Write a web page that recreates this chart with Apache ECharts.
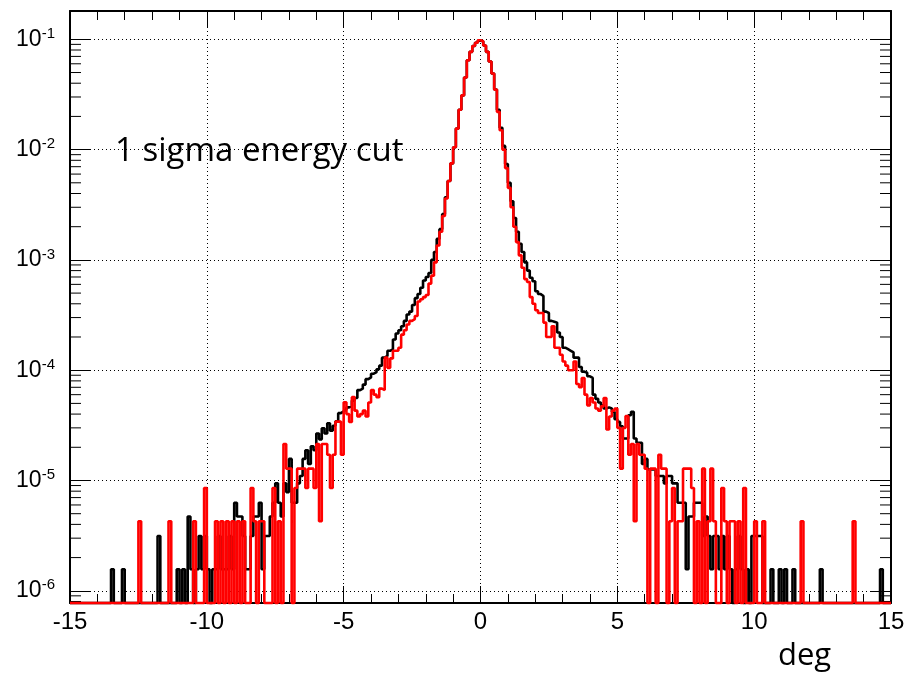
<!DOCTYPE html>
<html>
<head>
<meta charset="utf-8">
<script src="https://cdn.jsdelivr.net/npm/echarts@6/dist/echarts.min.js"></script>
<style>
html,body{margin:0;padding:0;background:#fff;}
#chart{width:922px;height:676px;}
</style>
</head>
<body>
<div id="chart"></div>
<script>
// ---- axis ranges / binning ----
const X_MIN = -15, X_MAX = 15, BIN_WIDTH = 0.1;
const Y_MIN = 7.75e-7, Y_MAX = 0.1806;
const yTickExponents = [-6, -5, -4, -3, -2, -1];
const minorTickMultipliers = [2, 3, 4, 5, 6, 7, 8, 9];
const minorTickDecades = [-7, -6, -5, -4, -3, -2, -1];

// ---- black histogram (bins of 0.1 deg from -15) ----
const blackLeft = [
0,0,0,0,0,0,0,0,0,0,
0,0,0,0,0,1.57e-6,0,0,0,1.57e-6,
0,0,0,0,0,0,0,0,0,0,
0,0,3.14e-6,0,0,0,0,0,0,1.57e-6,
0,1.57e-6,0,4.71e-6,1.57e-6,0,1.57e-6,3.14e-6,1.57e-6,3.14e-6,
1.57e-6,0,1.57e-6,1.57e-6,3.14e-6,1.57e-6,1.57e-6,1.57e-6,3.14e-6,1.57e-6,
6.28e-6,4.71e-6,4.71e-6,3.14e-6,1.57e-6,1.57e-6,3.14e-6,4.71e-6,4.71e-6,6.28e-6,
1.57e-6,3.14e-6,3.14e-6,4.71e-6,6.28e-6,9.42e-6,6.28e-6,4.71e-6,9.42e-6,7.85e-6,
1.57e-5,6.28e-6,6.28e-6,9.42e-6,1.1e-5,1.57e-5,1.88e-5,1.41e-5,2.04e-5,1.88e-5,
2.67e-5,2.36e-5,2.98e-5,2.67e-5,3.3e-5,2.83e-5,3.14e-5,3.45e-5,4.08e-5,4.24e-5
];
const blackCore = [
4.4e-5,4.6e-5,4.7e-5,5.3e-5,5.6e-5,6.6e-5,6.8e-5,7.4e-5,8.3e-5,8.6e-5,
9.3e-5,9.6e-5,1.02e-4,1.1e-4,1.3e-4,1.35e-4,1.5e-4,1.55e-4,1.9e-4,2.15e-4,
2.3e-4,2.5e-4,2.8e-4,3.2e-4,3.4e-4,3.9e-4,4.5e-4,4.9e-4,5.6e-4,6.5e-4,
7.0e-4,7.6e-4,1.0e-3,1.18e-3,1.55e-3,1.9e-3,2.6e-3,3.7e-3,5.2e-3,7.5e-3,
0.0105,0.0155,0.023,0.031,0.045,0.0645,0.077,0.087,0.093,0.097,
0.096,0.088,0.077,0.063,0.049,0.035,0.023,0.0158,0.0108,0.0074,
0.005,0.0034,0.0024,0.0018,0.0014,0.00118,9.5e-4,8.0e-4,6.9e-4,6.4e-4,
5.2e-4,4.9e-4,4.7e-4,3.4e-4,3.3e-4,2.8e-4,2.75e-4,2.7e-4,2.2e-4,2.0e-4,
1.6e-4,1.55e-4,1.5e-4,1.45e-4,1.3e-4,1.3e-4,1.07e-4,9.7e-5,9.5e-5,8.8e-5,
8.5e-5,6.0e-5,5.5e-5,5.1e-5,4.8e-5,4.5e-5,4.6e-5,4.5e-5,4.2e-5,3.6e-5
];
const blackRight = [
3.4e-5,3.1e-5,2.4e-5,2.4e-5,3.9e-5,4.2e-5,2.4e-5,2.2e-5,2.2e-5,1.41e-5,
1.57e-5,1.26e-5,1.26e-5,1.26e-5,1.1e-5,1.1e-5,1.1e-5,9.42e-6,1.1e-5,1.1e-5,
9.42e-6,9.42e-6,6.28e-6,6.28e-6,6.28e-6,1.57e-6,4.71e-6,4.71e-6,6.28e-6,6.28e-6,
6.28e-6,3.14e-6,4.71e-6,3.14e-6,1.57e-6,3.14e-6,3.14e-6,1.57e-6,3.14e-6,1.57e-6,
3.14e-6,1.57e-6,0,1.57e-6,3.14e-6,1.57e-6,0,1.57e-6,0,3.14e-6,
3.14e-6,3.14e-6,3.14e-6,0,0,0,1.57e-6,0,0,1.57e-6,
0,1.57e-6,0,0,1.57e-6,0,0,0,0,0,
0,0,0,0,1.57e-6,0,0,0,0,0,
0,0,0,0,0,0,0,0,0,0,
0,0,0,0,0,0,1.57e-6,0,0,0
];

// ---- red histogram ----
const redLeft = [
0,0,0,0,0,0,0,0,0,0,
0,0,0,0,0,0,0,0,0,0,
0,0,0,0,0,4.27e-6,0,0,0,0,
0,0,0,0,0,0,4.27e-6,0,0,0,
0,0,0,0,0,4.27e-6,0,0,0,8.54e-6,
0,0,0,4.27e-6,0,4.27e-6,0,4.27e-6,0,4.27e-6,
0,4.27e-6,0,4.27e-6,0,0,8.54e-6,4.27e-6,0,4.27e-6,
4.27e-6,0,0,0,8.54e-6,0,4.27e-6,0,2.14e-5,1.28e-5,
1.28e-5,0,8.54e-6,1.28e-5,1.28e-5,1.28e-5,8.54e-6,1.28e-5,1.28e-5,8.54e-6,
2.14e-5,4.27e-6,2.14e-5,2.14e-5,1.71e-5,8.54e-6,1.71e-5,3.42e-5,3.42e-5,1.71e-5
];
const redCore = [
5.12e-5,4.0e-5,3.4e-5,5.7e-5,4.3e-5,3.8e-5,4.0e-5,4.3e-5,3.8e-5,5.1e-5,
6.6e-5,6.0e-5,5.7e-5,6.8e-5,6.6e-5,1.3e-4,1.05e-4,1.28e-4,1.5e-4,1.5e-4,
1.6e-4,2.1e-4,2.3e-4,2.6e-4,2.8e-4,2.9e-4,3.1e-4,4.2e-4,4.4e-4,4.6e-4,
4.8e-4,6.1e-4,7.2e-4,9.5e-4,1.35e-3,1.8e-3,2.5e-3,3.6e-3,5.2e-3,7.5e-3,
0.0105,0.0155,0.023,0.031,0.045,0.0645,0.077,0.087,0.093,0.098,
0.096,0.088,0.077,0.063,0.049,0.035,0.022,0.015,0.010,0.0068,
0.0045,0.003,0.002,0.00145,0.0011,8.5e-4,6.7e-4,6.3e-4,4.6e-4,4.0e-4,
3.5e-4,3.3e-4,3.3e-4,2.7e-4,2.0e-4,2.0e-4,2.5e-4,1.6e-4,1.6e-4,1.38e-4,
1.2e-4,1.1e-4,1.0e-4,1.0e-4,1.2e-4,7.5e-5,7.0e-5,8.5e-5,6.0e-5,4.8e-5,
5.6e-5,5.1e-5,4.5e-5,4.3e-5,4.7e-5,5.6e-5,2.9e-5,3.8e-5,4.3e-5,4.5e-5
];
const redRight = [
3.0e-5,1.28e-5,3.0e-5,3.84e-5,1.71e-5,2.14e-5,4.27e-6,2.14e-5,1.71e-5,1.71e-5,
1.28e-5,0,1.28e-5,1.28e-5,0,1.71e-5,1.28e-5,1.28e-5,0,4.27e-6,
8.54e-6,0,4.27e-6,4.27e-6,1.28e-5,1.28e-5,1.28e-5,8.54e-6,0,4.27e-6,
0,1.28e-5,0,4.27e-6,1.28e-5,4.27e-6,0,0,8.54e-6,4.27e-6,
0,4.27e-6,4.27e-6,0,4.27e-6,0,8.54e-6,0,0,0,
4.27e-6,0,0,4.27e-6,0,0,0,0,0,0,
0,0,0,0,0,0,0,4.27e-6,0,0,
0,0,0,0,0,0,0,0,0,0,
0,0,0,0,0,0,4.27e-6,0,0,0,
0,0,0,0,0,0,0,0,0,0
];

const blackValues = blackLeft.concat(blackCore, blackRight);
const redValues = redLeft.concat(redCore, redRight);

// histogram -> step points at bin edges (empty bins sit on the axis floor)
function toSteps(vals) {
  const pts = vals.map((v, i) => [Math.round((X_MIN + i * BIN_WIDTH) * 10) / 10, v > 0 ? v : Y_MIN]);
  pts.push([X_MAX, pts[pts.length - 1][1]]);
  return pts;
}

const minorTickValues = [];
minorTickDecades.forEach(d => minorTickMultipliers.forEach(m => {
  const v = m * Math.pow(10, d);
  if (v >= Y_MIN && v <= Y_MAX) minorTickValues.push([X_MIN, v]);
}));

const NARROW = "'Liberation Sans Narrow', 'Liberation Sans', Arial, sans-serif";
const TEXTFONT = "'Open Sans', Lato, sans-serif";

const chart = echarts.init(document.getElementById('chart'), null, {renderer: 'canvas'});

const frameLine = {show: true, onZero: false, lineStyle: {color: '#000', width: 2}};
const dotted = {show: true, lineStyle: {color: '#000', width: 1, type: [1, 3]}};

chart.setOption({
  animation: false,
  backgroundColor: '#fff',
  grid: {left: 70, right: 31, top: 11, bottom: 73, containLabel: false, outerBoundsMode: 'none'},
  xAxis: [{
    type: 'value', min: X_MIN, max: X_MAX, interval: 5, position: 'bottom',
    axisLine: frameLine,
    axisTick: {show: true, inside: true, length: 17, lineStyle: {color: '#000', width: 1}},
    minorTick: {show: true, splitNumber: 5, length: 9, lineStyle: {color: '#000', width: 1}},
    axisLabel: {color: '#000', fontSize: 24, fontFamily: NARROW, margin: 7},
    splitLine: dotted
  }, {
    type: 'value', min: X_MIN, max: X_MAX, interval: 5, position: 'top',
    axisLine: frameLine,
    axisTick: {show: true, inside: true, length: 17, lineStyle: {color: '#000', width: 1}},
    minorTick: {show: true, splitNumber: 5, length: 9, lineStyle: {color: '#000', width: 1}},
    axisLabel: {show: false},
    splitLine: {show: false}
  }],
  yAxis: [{
    type: 'log', logBase: 10, min: Y_MIN, max: Y_MAX, position: 'left',
    axisLine: frameLine,
    axisTick: {show: true, inside: true, length: 20, lineStyle: {color: '#000', width: 1}},
    axisLabel: {
      color: '#000', margin: 15,
      formatter: function (val) {
        const e = Math.log10(val), r = Math.round(e);
        if (Math.abs(e - r) > 1e-3 || yTickExponents.indexOf(r) < 0) return '';
        return '{b|10}{s|' + r + '}';
      },
      rich: {
        b: {fontSize: 23, fontFamily: NARROW, color: '#000', lineHeight: 26},
        s: {fontSize: 15, fontFamily: NARROW, color: '#000', lineHeight: 16, verticalAlign: 'top'}
      }
    },
    splitLine: dotted
  }, {
    type: 'log', logBase: 10, min: Y_MIN, max: Y_MAX, position: 'right',
    axisLine: frameLine,
    axisTick: {show: true, inside: true, length: 20, lineStyle: {color: '#000', width: 1}},
    axisLabel: {show: false},
    splitLine: {show: false}
  }],
  graphic: [
    {type: 'text', x: 115, y: 152, style: {text: '1 sigma energy cut', font: '33px ' + TEXTFONT, fill: '#000', verticalAlign: 'middle'}},
    {type: 'text', x: 778, y: 656, style: {text: 'deg', font: '31px ' + TEXTFONT, fill: '#000', verticalAlign: 'middle'}}
  ],
  series: [{
    type: 'custom', xAxisIndex: 0, yAxisIndex: 0, silent: true, clip: false, z: 1,
    data: minorTickValues,
    renderItem: function (params, api) {
      const v = api.value(1);
      const pL = api.coord([X_MIN, v]);
      const pR = api.coord([X_MAX, v]);
      return {type: 'group', children: [
        {type: 'line', shape: {x1: pL[0], y1: pL[1], x2: pL[0] + 11, y2: pL[1]}, style: {stroke: '#000', lineWidth: 1}},
        {type: 'line', shape: {x1: pR[0] - 11, y1: pR[1], x2: pR[0], y2: pR[1]}, style: {stroke: '#000', lineWidth: 1}}
      ]};
    }
  }, {
    name: 'all', type: 'line', data: toSteps(blackValues), step: 'end',
    symbol: 'none', showSymbol: false, clip: false, z: 3,
    lineStyle: {color: '#000', width: 2.6}, itemStyle: {color: '#000'}
  }, {
    name: 'cut', type: 'line', data: toSteps(redValues), step: 'end',
    symbol: 'none', showSymbol: false, clip: false, z: 4,
    lineStyle: {color: '#ff0000', width: 2.6}, itemStyle: {color: '#ff0000'}
  }]
});
</script>
</body>
</html>
